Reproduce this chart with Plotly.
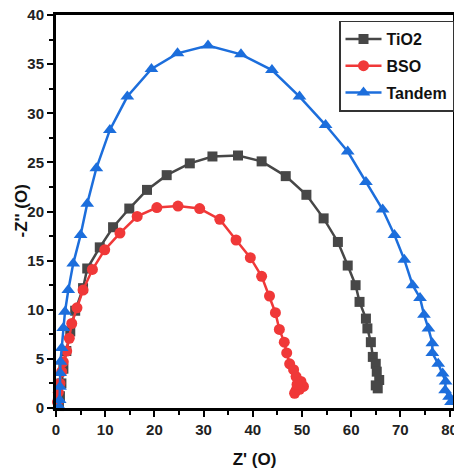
import plotly.graph_objects as go

# ---- data ----
tio2_x = [0.6, 0.8, 1.1, 1.5, 2.1, 2.9, 3.9, 5.5, 6.35, 8.9, 11.6, 14.9, 18.5, 22.5, 27.2,
          31.8, 37.0, 41.8, 46.7, 50.9, 54.4, 57.3, 59.3, 60.9, 61.7, 63.0, 63.3, 64.0,
          64.4, 65.0, 65.2, 65.7, 65.0, 65.4]
tio2_y = [0.2, 1.2, 2.5, 4.0, 5.8, 7.8, 9.9, 12.2, 14.2, 16.35, 18.4, 20.3, 22.2, 23.7, 24.9,
          25.6, 25.7, 25.1, 23.6, 21.7, 19.3, 16.9, 14.5, 12.5, 10.8, 9.1, 8.1, 6.7,
          5.2, 4.5, 3.7, 2.85, 2.3, 2.0]

bso_x = [0.3, 0.47, 0.8, 1.16, 1.48, 2.17, 2.7, 3.2, 4.26, 5.5, 7.4, 9.9, 13.0, 16.5, 20.5,
         24.8, 29.2, 33.3, 36.6, 39.5, 41.8, 43.4, 44.6, 45.4, 46.4, 46.9, 47.5, 48.3,
         48.8, 49.8, 50.3, 48.8, 48.5, 49.5, 49.0]
bso_y = [0.6, 1.6, 2.5, 3.7, 4.7, 5.8, 7.1, 8.6, 10.2, 12.0, 14.1, 16.1, 17.8, 19.5, 20.4,
         20.55, 20.3, 19.2, 17.1, 15.3, 13.4, 11.4, 9.7, 8.0, 6.7, 5.6, 4.5, 3.9,
         3.2, 2.7, 2.2, 1.8, 1.5, 1.9, 2.4]

tandem_x = [0.67, 0.75, 0.8, 0.85, 0.9, 1.16, 1.48, 1.83, 2.5, 3.5, 5.0, 6.35, 8.2, 10.95,
            14.5, 19.4, 24.7, 30.9, 37.6, 43.9, 49.5, 54.8, 59.3, 63.0, 66.4, 68.8, 70.8,
            72.5, 74.0, 74.8, 75.7, 76.5, 76.5, 77.7, 78.6, 79.2, 79.1, 79.9, 80.3]
tandem_y = [0.13, 0.81, 2.17, 3.56, 4.71, 6.1, 8.14, 9.8, 12.0, 14.7, 17.6, 20.8, 24.4, 28.3,
            31.7, 34.5, 36.1, 36.9, 36.0, 34.4, 31.7, 28.8, 26.1, 23.0, 20.2, 17.6, 15.1,
            12.5, 11.2, 9.5, 8.1, 6.6, 5.6, 4.5, 3.5, 2.7, 1.8, 1.15, 0.6]

names = ["TiO2", "BSO", "Tandem"]
colors = ["#474747", "#F03838", "#1C6EDC"]
symbols = ["square", "circle", "triangle-up"]
msizes = [10, 11, 12]

fig = go.Figure()
for i, (xs, ys) in enumerate([(tio2_x, tio2_y), (bso_x, bso_y), (tandem_x, tandem_y)]):
    fig.add_trace(go.Scatter(
        x=xs, y=ys, name=names[i], mode="lines+markers",
        line=dict(color=colors[i], width=2.5),
        marker=dict(symbol=symbols[i], size=msizes[i], color=colors[i]),
        legendgroup=names[i], cliponaxis=False,
    ))

font_family = "Liberation Sans, Arial, sans-serif"
title_font = dict(family=font_family, size=17, color="#111", weight="bold")
axis_common = dict(
    showline=True, linecolor="black", linewidth=3, mirror=True,
    ticks="outside", ticklen=6, tickwidth=2, tickcolor="black",
    showgrid=False, zeroline=False,
    tickfont=dict(family=font_family, size=15, color="#222", weight="bold"),
    automargin=False, ticklabeloverflow="allow",
)

fig.update_layout(
    width=454, height=474,
    margin=dict(l=56, r=0, t=15, b=66),
    paper_bgcolor="white", plot_bgcolor="white",
    showlegend=True,
    legend=dict(
        x=0.712, y=0.986, xanchor="left", yanchor="top",
        bordercolor="#333", borderwidth=1.5, bgcolor="white",
        font=dict(family=font_family, size=16, color="#111", weight="bold"),
        tracegroupgap=3, itemwidth=36,
    ),
    xaxis=dict(
        range=[0, 80.7], tick0=0, dtick=10,
        minor=dict(ticks="outside", dtick=5, ticklen=4, tickwidth=2, tickcolor="black"),
        title=dict(text="Z' (O)", font=title_font, standoff=17),
        **axis_common,
    ),
    yaxis=dict(
        range=[0, 40], tick0=0, dtick=5,
        minor=dict(ticks="outside", dtick=2.5, ticklen=4, tickwidth=2, tickcolor="black"),
        **axis_common,
    ),
    annotations=[dict(
        text="-Z'' (O)", textangle=-90, font=title_font,
        xref="paper", yref="paper", x=0, y=0.5, xshift=-35,
        xanchor="center", yanchor="middle", showarrow=False,
    )],
)

fig.write_html("out.html")
